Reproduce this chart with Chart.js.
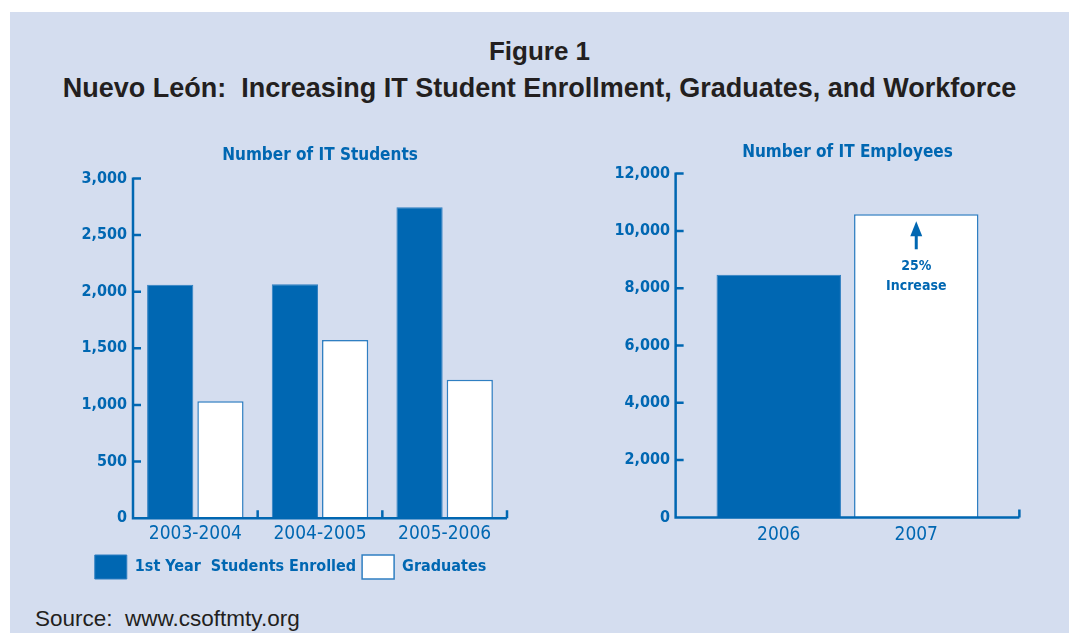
<!DOCTYPE html>
<html>
<head>
<meta charset="utf-8">
<script src="https://cdn.jsdelivr.net/npm/chart.js@4.4.1/dist/chart.umd.min.js"></script>
<style>
  html, body { margin: 0; padding: 0; background: #fff; }
  body { width: 1069px; height: 633px; position: relative; overflow: hidden; }
  #panel { position: absolute; left: 10px; top: 12px; right: 0; bottom: 0; background: #d4ddef; }
  .title { position: absolute; left: 0; width: 1079px; text-align: center; color: #231f20;
           font-family: "Liberation Sans", Arial, sans-serif; font-weight: bold; white-space: nowrap; }
  #t1 { top: 36px; font-size: 26px; }
  #t2 { top: 73px; font-size: 27px; }
  #source { position: absolute; left: 35px; top: 606px; font-family: "Liberation Sans", Arial, sans-serif;
            font-size: 22.5px; color: #231f20; white-space: nowrap; }
  .box { position: absolute; }
</style>
</head>
<body>
<div id="panel"></div>
<div class="title" id="t1">Figure 1</div>
<div class="title" id="t2">Nuevo León:&nbsp; Increasing IT Student Enrollment, Graduates, and Workforce</div>
<div class="box" style="left:68px; top:135px; width:462px; height:454px;"><canvas id="students"></canvas></div>
<div class="box" style="left:600px; top:124px; width:460px; height:443px;"><canvas id="employees"></canvas></div>
<div id="source">Source:&nbsp; www.csoftmty.org</div>
<script>
// datos
const studentYears = ["2003-2004", "2004-2005", "2005-2006"];
const enrolled = [2060, 2066, 2746];
const graduates = [1032, 1573, 1223];
const studentTicks = [0, 500, 1000, 1500, 2000, 2500, 3000];

const employeeYears = ["2006", "2007"];
const employees = [8470, 10580];
const employeeTicks = [0, 2000, 4000, 6000, 8000, 10000, 12000];

const BLUE = "#0067b2";
const NARROW = "'Liberation Sans Narrow', 'DejaVu Sans Condensed', sans-serif";

// ejes dibujados a mano: linea del eje, marcas hacia dentro
// ext = cuanto se alarga el eje x fuera del area (en fraccion de categoria)
const axisMarks = {
  id: "axisMarks",
  afterDatasetsDraw(chart, args, opts) {
    const { ctx, chartArea } = chart;
    const y = chart.scales.y;
    const n = chart.data.labels.length;
    const w = (chartArea.right - chartArea.left) / n;
    const ext = (opts.ext || 0) * w;
    const left = chartArea.left - ext, right = chartArea.right + ext;
    const top = y.getPixelForValue(y.max);
    ctx.save();
    ctx.strokeStyle = BLUE;
    ctx.lineWidth = 2.5;
    ctx.beginPath();
    ctx.moveTo(left, top - 1);
    ctx.lineTo(left, chartArea.bottom);
    ctx.lineTo(right, chartArea.bottom);
    y.ticks.forEach(t => {
      const py = y.getPixelForValue(t.value);
      ctx.moveTo(left, py);
      ctx.lineTo(left + 8, py);
    });
    if (opts.between) {
      for (let i = 1; i <= n; i++) {
        const px = chartArea.left + i * w;
        ctx.moveTo(px, chartArea.bottom);
        ctx.lineTo(px, chartArea.bottom - 8);
      }
    } else {
      ctx.moveTo(right, chartArea.bottom);
      ctx.lineTo(right, chartArea.bottom - 8);
    }
    ctx.stroke();
    ctx.restore();
  }
};

// flecha y texto "25% Increase" sobre la barra de 2007
const increaseNote = {
  id: "increaseNote",
  afterDatasetsDraw(chart) {
    if (chart.canvas.id !== "employees") return;
    const bar = chart.getDatasetMeta(0).data[1];
    const { ctx } = chart;
    const cx = bar.x, top = bar.y;
    ctx.save();
    ctx.fillStyle = BLUE;
    ctx.strokeStyle = BLUE;
    ctx.lineWidth = 3;
    ctx.beginPath();
    ctx.moveTo(cx, top + 7);
    ctx.lineTo(cx - 6, top + 22);
    ctx.lineTo(cx + 6, top + 22);
    ctx.closePath();
    ctx.fill();
    ctx.beginPath();
    ctx.moveTo(cx, top + 20);
    ctx.lineTo(cx, top + 35);
    ctx.stroke();
    ctx.font = "bold 14px " + NARROW;
    ctx.textAlign = "center";
    ctx.textBaseline = "middle";
    ctx.fillText("25%", cx, top + 52);
    ctx.fillText("Increase", cx, top + 72);
    ctx.restore();
  }
};

Chart.register(axisMarks, increaseNote);

new Chart(document.getElementById("students"), {
  type: "bar",
  data: {
    labels: studentYears,
    datasets: [
      { label: "1st Year  Students Enrolled", data: enrolled, backgroundColor: BLUE,
        borderColor: "#2f7fc2", borderWidth: 1, categoryPercentage: 0.806, barPercentage: 0.92 },
      { label: "Graduates", data: graduates, backgroundColor: "#ffffff",
        borderColor: "#2f7fc2", borderWidth: 1.5, categoryPercentage: 0.806, barPercentage: 0.92 }
    ]
  },
  options: {
    responsive: true,
    maintainAspectRatio: false,
    animation: false,
    layout: { padding: { left: 6, right: 23, top: 0, bottom: 0 } },
    plugins: {
      axisMarks: { between: true, ext: 0 },
      tooltip: { enabled: false },
      title: {
        display: true,
        fullSize: false,
        text: "Number of IT Students",
        color: BLUE,
        font: { family: NARROW, size: 17, weight: "bold" },
        padding: { top: 10, bottom: 13 }
      },
      legend: {
        position: "bottom",
        align: "center",
        labels: {
          color: BLUE,
          font: { family: NARROW, size: 16, weight: "bold" },
          boxWidth: 32,
          boxHeight: 24,
          padding: 6
        }
      }
    },
    scales: {
      x: {
        grid: { display: false, drawTicks: false },
        border: { display: false },
        ticks: { color: BLUE, padding: 4, font: { family: NARROW, size: 19 } }
      },
      y: {
        min: 0, max: 3000,
        afterBuildTicks: s => { s.ticks = studentTicks.map(v => ({ value: v })); },
        afterFit: s => { s.width = 59; },
        grid: { display: false, drawTicks: false },
        border: { display: false },
        ticks: {
          color: BLUE, padding: 6,
          font: { family: NARROW, size: 16, weight: "bold" },
          callback: v => v.toLocaleString("en-US")
        }
      }
    }
  }
});

new Chart(document.getElementById("employees"), {
  type: "bar",
  data: {
    labels: employeeYears,
    datasets: [{
      label: "IT Employees",
      data: employees,
      backgroundColor: [BLUE, "#ffffff"],
      borderColor: "#2f7fc2",
      borderWidth: [1, 1.5],
      categoryPercentage: 1,
      barPercentage: 0.905
    }]
  },
  options: {
    responsive: true,
    maintainAspectRatio: false,
    animation: false,
    layout: { padding: { left: 10, right: 75, top: 0, bottom: 3 } },
    plugins: {
      axisMarks: { between: false, ext: 0.25 },
      tooltip: { enabled: false },
      legend: { display: false },
      title: {
        display: true,
        fullSize: false,
        text: "Number of IT Employees",
        color: BLUE,
        font: { family: NARROW, size: 17, weight: "bold" },
        padding: { top: 1, bottom: 11 }
      }
    },
    scales: {
      x: {
        grid: { display: false, drawTicks: false },
        border: { display: false },
        ticks: { color: BLUE, padding: 6, font: { family: NARROW, size: 19 } }
      },
      y: {
        min: 0, max: 12000,
        afterBuildTicks: s => { s.ticks = employeeTicks.map(v => ({ value: v })); },
        afterFit: s => { s.width = 100; },
        grid: { display: false, drawTicks: false },
        border: { display: false },
        ticks: {
          color: BLUE, padding: 40,
          font: { family: NARROW, size: 16, weight: "bold" },
          callback: v => v.toLocaleString("en-US")
        }
      }
    }
  }
});
</script>
</body>
</html>
